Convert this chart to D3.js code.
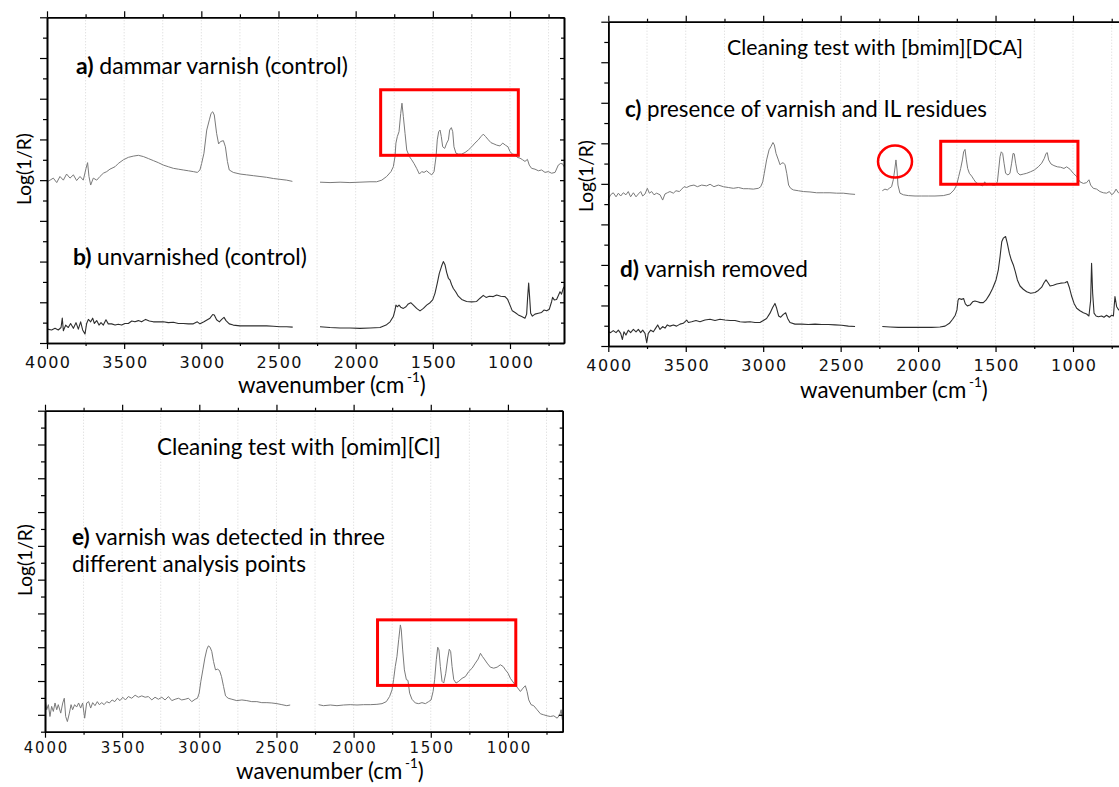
<!DOCTYPE html>
<html>
<head>
<meta charset="utf-8">
<script src="https://cdn.jsdelivr.net/npm/d3@7"></script>
<style>
  body { margin: 0; background: #fff; }
  svg { display: block; }
  .lbl { font-family: Lato, "Open Sans", sans-serif; fill: #000; }
</style>
</head>
<body>
<svg id="fig" width="1119" height="787"></svg>
<script>
// ---- wavenumber ticks (cm-1) ----
const majorWn = [4000, 3500, 3000, 2500, 2000, 1500, 1000];
const minorWn = [3750, 3250, 2750, 2250, 1750, 1250, 750];
const gridWn = [3750, 3500, 3250, 3000, 2750, 2500, 2250, 2000, 1750, 1500, 1250, 1000, 750];

// ---- spectra: [wavenumber, Log(1/R)] (offset, arbitrary units) ----
// a) dammar varnish (control)
const dammarHigh = [[4000,3.96],[3980,4.0],[3959,4.05],[3937,3.94],[3916,4.09],[3894,4.0],[3873,4.15],[3851,4.05],[3829,4.13],[3808,3.99],[3786,4.09],[3765,4.0],[3747,4.29],[3737,4.43],[3728,4.09],[3717,3.88],[3700,4.05],[3678,4.0],[3657,4.09],[3635,4.17],[3613,4.21],[3592,4.27],[3559,4.33],[3538,4.41],[3505,4.5],[3473,4.56],[3441,4.59],[3408,4.61],[3376,4.58],[3343,4.53],[3311,4.48],[3279,4.43],[3246,4.37],[3214,4.33],[3181,4.29],[3149,4.27],[3117,4.25],[3084,4.23],[3052,4.21],[3026,4.19],[3009,4.25],[2998,4.41],[2983,4.66],[2965,5.23],[2948,5.48],[2937,5.64],[2926,5.68],[2916,5.6],[2901,5.15],[2888,4.89],[2875,4.95],[2857,4.97],[2844,4.82],[2831,4.46],[2819,4.25],[2793,4.19],[2749,4.15],[2706,4.13],[2663,4.11],[2620,4.09],[2577,4.07],[2533,4.04],[2490,4.02],[2447,4.0],[2410,3.97]];
const dammarLow = [[2231,3.95],[2166,3.94],[2101,3.95],[2037,3.94],[1972,3.95],[1907,3.96],[1864,3.96],[1831,4.0],[1799,4.09],[1771,4.21],[1756,4.33],[1745,4.58],[1739,4.91],[1730,5.07],[1719,5.19],[1708,5.64],[1700,5.89],[1691,5.56],[1680,5.15],[1669,4.74],[1652,4.58],[1637,4.5],[1622,4.41],[1605,4.29],[1587,4.15],[1572,4.21],[1557,4.19],[1540,4.23],[1522,4.17],[1507,4.13],[1492,4.21],[1479,4.58],[1471,4.99],[1462,5.19],[1453,5.23],[1445,5.07],[1436,4.82],[1423,4.78],[1410,4.91],[1399,4.99],[1391,5.23],[1380,5.29],[1371,5.19],[1363,4.82],[1350,4.66],[1334,4.64],[1313,4.64],[1291,4.68],[1270,4.74],[1248,4.82],[1227,4.91],[1205,4.99],[1188,5.07],[1173,5.13],[1158,5.07],[1140,4.99],[1123,4.92],[1104,4.89],[1086,4.86],[1065,4.84],[1047,4.91],[1030,4.86],[1013,4.82],[1000,4.7],[983,4.64],[966,4.62],[953,4.56],[935,4.54],[918,4.5],[903,4.46],[887,4.51],[875,4.37],[860,4.29],[838,4.27],[816,4.23],[795,4.25],[773,4.19],[752,4.21],[730,4.17],[708,4.19],[687,4.37],[672,4.41],[659,4.4],[650,4.33]];

// b) unvarnished (control)
const unvarnishedHigh = [[3996,0.34],[3970,0.32],[3948,0.36],[3927,0.32],[3909,0.38],[3901,0.61],[3894,0.3],[3879,0.44],[3862,0.38],[3847,0.48],[3829,0.36],[3812,0.5],[3797,0.34],[3782,0.52],[3769,0.32],[3754,0.22],[3743,0.48],[3732,0.58],[3717,0.52],[3704,0.61],[3693,0.48],[3678,0.55],[3663,0.44],[3650,0.5],[3635,0.44],[3618,0.57],[3603,0.47],[3581,0.47],[3559,0.44],[3538,0.46],[3516,0.44],[3495,0.48],[3473,0.48],[3451,0.54],[3430,0.52],[3408,0.55],[3387,0.52],[3361,0.58],[3337,0.54],[3311,0.52],[3279,0.52],[3246,0.52],[3214,0.5],[3181,0.51],[3149,0.48],[3117,0.48],[3084,0.47],[3052,0.47],[3026,0.52],[3009,0.47],[2983,0.52],[2961,0.57],[2944,0.61],[2926,0.7],[2916,0.69],[2901,0.57],[2883,0.52],[2868,0.58],[2853,0.63],[2840,0.55],[2819,0.47],[2793,0.44],[2749,0.42],[2706,0.42],[2663,0.42],[2620,0.42],[2577,0.42],[2533,0.41],[2490,0.4],[2447,0.4],[2408,0.39]];
const unvarnishedLow = [[2231,0.4],[2166,0.38],[2101,0.37],[2037,0.37],[1972,0.36],[1907,0.37],[1842,0.38],[1803,0.44],[1777,0.52],[1756,0.65],[1745,0.81],[1739,0.93],[1730,0.89],[1719,0.93],[1708,0.88],[1691,0.85],[1674,0.89],[1659,0.96],[1643,0.99],[1626,0.93],[1605,0.85],[1583,0.79],[1561,0.85],[1540,0.93],[1518,0.99],[1501,1.06],[1486,1.22],[1471,1.47],[1458,1.71],[1443,1.89],[1432,2.0],[1421,1.92],[1410,1.73],[1399,1.59],[1389,1.55],[1378,1.43],[1367,1.34],[1352,1.26],[1335,1.15],[1313,1.07],[1281,1.02],[1248,1.01],[1216,1.02],[1194,1.1],[1173,1.17],[1155,1.12],[1134,1.15],[1108,1.14],[1086,1.18],[1060,1.15],[1032,1.14],[1015,1.07],[1000,0.93],[985,0.79],[967,0.75],[946,0.69],[924,0.65],[903,0.61],[892,0.71],[886,1.1],[879,1.47],[873,1.14],[866,0.73],[855,0.66],[838,0.71],[816,0.73],[795,0.75],[780,0.81],[762,0.79],[745,0.83],[730,1.02],[724,1.12],[713,1.06],[698,1.07],[685,1.18],[676,1.26],[666,1.2],[655,1.34],[649,1.38]];

// c) cleaning with [bmim][DCA]: varnish and IL residues
const bmimHigh = [[4000,3.62],[3985,3.73],[3968,3.78],[3950,3.68],[3935,3.77],[3920,3.7],[3903,3.78],[3886,3.73],[3871,3.81],[3856,3.68],[3838,3.78],[3821,3.68],[3806,3.75],[3791,3.81],[3778,3.7],[3763,3.75],[3748,3.89],[3735,3.77],[3720,3.81],[3705,3.73],[3688,3.77],[3666,3.73],[3649,3.6],[3634,3.75],[3619,3.78],[3602,3.81],[3580,3.77],[3563,3.83],[3541,3.81],[3526,3.87],[3511,3.93],[3494,3.91],[3473,3.95],[3447,3.97],[3425,3.93],[3397,3.97],[3365,3.95],[3343,3.99],[3318,3.93],[3290,3.97],[3257,3.93],[3225,3.91],[3193,3.89],[3160,3.91],[3128,3.88],[3096,3.88],[3064,3.87],[3031,3.89],[3016,3.93],[3003,4.05],[2993,4.26],[2978,4.59],[2962,4.84],[2950,4.92],[2937,5.02],[2928,4.96],[2917,4.75],[2902,4.59],[2891,4.47],[2881,4.51],[2870,4.52],[2859,4.47],[2848,4.26],[2836,3.97],[2823,3.89],[2805,3.85],[2773,3.83],[2741,3.81],[2698,3.8],[2655,3.78],[2612,3.78],[2569,3.78],[2526,3.77],[2483,3.77],[2440,3.75],[2407,3.74]];
const bmimLow = [[2231,3.83],[2214,3.87],[2199,3.85],[2186,3.89],[2171,3.93],[2160,4.1],[2151,4.34],[2143,4.59],[2136,4.34],[2130,3.97],[2117,3.77],[2095,3.73],[2063,3.71],[2020,3.7],[1977,3.7],[1934,3.7],[1891,3.7],[1837,3.71],[1794,3.75],[1768,3.85],[1751,3.97],[1738,4.18],[1725,4.38],[1714,4.59],[1706,4.79],[1697,4.85],[1689,4.61],[1680,4.38],[1669,4.26],[1654,4.19],[1639,4.1],[1626,4.03],[1611,4.0],[1596,3.97],[1583,3.95],[1570,4.05],[1557,3.97],[1540,4.01],[1519,3.97],[1501,3.97],[1488,4.05],[1480,4.34],[1471,4.67],[1463,4.79],[1454,4.75],[1445,4.51],[1435,4.26],[1420,4.22],[1407,4.26],[1396,4.51],[1387,4.75],[1379,4.74],[1370,4.51],[1359,4.28],[1342,4.22],[1321,4.24],[1299,4.26],[1273,4.3],[1250,4.34],[1224,4.42],[1202,4.51],[1185,4.63],[1174,4.75],[1166,4.77],[1157,4.59],[1142,4.49],[1123,4.45],[1101,4.42],[1080,4.41],[1058,4.38],[1041,4.42],[1019,4.36],[998,4.26],[976,4.18],[955,4.05],[933,4.01],[912,4.03],[897,4.1],[886,3.97],[869,3.89],[847,3.87],[826,3.81],[804,3.78],[783,3.77],[765,3.81],[750,3.73],[735,3.78],[722,3.87],[707,3.78],[690,3.8],[670,3.83],[650,3.85]];

// d) varnish removed
const removedHigh = [[4000,0.35],[3985,0.33],[3968,0.38],[3950,0.33],[3935,0.39],[3920,0.31],[3909,0.16],[3899,0.35],[3886,0.27],[3871,0.39],[3856,0.33],[3838,0.41],[3821,0.35],[3806,0.41],[3791,0.33],[3778,0.39],[3763,0.31],[3752,0.08],[3742,0.31],[3726,0.39],[3709,0.35],[3694,0.44],[3681,0.52],[3666,0.41],[3649,0.48],[3634,0.44],[3619,0.52],[3602,0.49],[3580,0.52],[3559,0.49],[3537,0.54],[3516,0.56],[3494,0.64],[3483,0.58],[3462,0.6],[3434,0.63],[3408,0.6],[3376,0.64],[3343,0.66],[3311,0.63],[3279,0.66],[3247,0.64],[3214,0.63],[3182,0.63],[3150,0.6],[3117,0.59],[3085,0.6],[3053,0.58],[3021,0.58],[2999,0.63],[2978,0.68],[2956,0.81],[2939,0.95],[2924,1.05],[2913,0.93],[2900,0.74],[2887,0.71],[2870,0.78],[2855,0.82],[2842,0.68],[2827,0.58],[2795,0.54],[2752,0.54],[2709,0.53],[2665,0.54],[2622,0.53],[2579,0.53],[2536,0.52],[2493,0.51],[2450,0.49],[2407,0.48]];
const removedLow = [[2231,0.48],[2181,0.47],[2128,0.46],[2074,0.46],[2020,0.46],[1966,0.46],[1912,0.46],[1859,0.47],[1826,0.49],[1798,0.56],[1777,0.66],[1760,0.76],[1749,0.89],[1742,1.13],[1736,1.17],[1719,1.15],[1706,1.17],[1695,1.04],[1682,0.99],[1665,1.01],[1648,1.09],[1633,1.11],[1615,1.09],[1600,1.07],[1579,1.07],[1562,1.13],[1540,1.26],[1519,1.42],[1497,1.63],[1482,1.88],[1471,2.2],[1460,2.57],[1450,2.66],[1435,2.7],[1424,2.53],[1411,2.29],[1398,2.12],[1385,2.0],[1372,1.83],[1359,1.63],[1342,1.48],[1321,1.4],[1299,1.34],[1273,1.3],[1245,1.32],[1224,1.37],[1202,1.45],[1187,1.56],[1174,1.63],[1161,1.56],[1148,1.48],[1127,1.5],[1105,1.53],[1080,1.55],[1052,1.56],[1037,1.59],[1024,1.45],[1008,1.22],[993,1.05],[976,0.93],[955,0.87],[933,0.82],[912,0.79],[897,0.74],[886,1.13],[880,2.04],[873,1.3],[864,0.81],[851,0.74],[836,0.72],[815,0.74],[800,0.71],[783,0.76],[765,0.71],[750,0.76],[739,0.74],[729,1.22],[718,0.97],[705,0.89],[690,0.95],[670,1.05],[650,1.1]];

// e) cleaning with [omim][Cl]
const omimHigh = [[3998,0.44],[3989,0.15],[3978,0.3],[3968,-0.05],[3957,0.25],[3946,0.1],[3935,0.35],[3924,0.15],[3914,0.3],[3898,0.05],[3885,0.35],[3875,0.49],[3866,-0.05],[3855,-0.2],[3842,0.05],[3831,0.3],[3821,0.15],[3808,0.3],[3795,0.23],[3782,0.35],[3769,0.2],[3756,0.35],[3743,-0.1],[3730,0.35],[3717,0.39],[3704,0.2],[3691,0.36],[3676,0.27],[3661,0.39],[3648,0.3],[3632,0.36],[3617,0.3],[3600,0.39],[3583,0.35],[3565,0.44],[3548,0.39],[3531,0.49],[3514,0.42],[3496,0.52],[3479,0.44],[3460,0.54],[3438,0.49],[3416,0.58],[3395,0.52],[3373,0.56],[3351,0.52],[3330,0.54],[3308,0.44],[3287,0.52],[3265,0.46],[3243,0.52],[3222,0.44],[3200,0.54],[3178,0.42],[3157,0.46],[3135,0.49],[3114,0.44],[3092,0.46],[3070,0.49],[3049,0.39],[3027,0.46],[3012,0.49],[3001,0.64],[2990,0.99],[2977,1.33],[2964,1.68],[2951,1.94],[2941,2.04],[2930,2.0],[2919,1.87],[2908,1.58],[2895,1.33],[2882,1.35],[2869,1.31],[2856,1.13],[2843,0.84],[2830,0.56],[2813,0.49],[2789,0.46],[2757,0.42],[2724,0.44],[2692,0.42],[2660,0.39],[2627,0.39],[2595,0.36],[2562,0.36],[2530,0.35],[2497,0.33],[2465,0.3],[2433,0.27],[2411,0.29]];
const omimLow = [[2227,0.3],[2195,0.27],[2151,0.29],[2108,0.27],[2065,0.29],[2022,0.3],[1978,0.29],[1935,0.3],[1892,0.3],[1849,0.31],[1816,0.33],[1788,0.39],[1767,0.54],[1751,0.74],[1741,1.04],[1730,1.43],[1719,1.73],[1708,2.22],[1697,2.66],[1691,2.51],[1682,1.92],[1671,1.33],[1658,1.04],[1648,1.02],[1637,0.64],[1622,0.46],[1600,0.35],[1578,0.33],[1557,0.36],[1535,0.33],[1514,0.39],[1498,0.44],[1485,0.69],[1475,1.04],[1464,1.63],[1455,2.0],[1447,1.92],[1438,1.43],[1427,0.99],[1416,0.94],[1403,1.23],[1390,1.68],[1380,1.94],[1371,1.87],[1362,1.43],[1351,1.04],[1336,0.94],[1319,0.99],[1297,1.08],[1276,1.13],[1254,1.28],[1232,1.38],[1211,1.53],[1193,1.65],[1178,1.82],[1166,1.73],[1153,1.65],[1135,1.53],[1114,1.41],[1092,1.38],[1070,1.41],[1049,1.48],[1031,1.43],[1016,1.33],[999,1.23],[984,1.08],[962,0.94],[941,0.82],[919,0.69],[902,0.79],[887,0.86],[876,0.69],[865,0.44],[850,0.3],[833,0.27],[811,0.15],[789,0.03],[768,0.0],[746,-0.03],[725,-0.05],[703,-0.03],[681,-0.1],[664,0.0],[655,0.15],[647,-0.15]];

// ---- highlighted regions: [wnStart, wnEnd, yTop, yBottom] ----
const boxA = [1838, 946, 6.22, 4.61];
const boxC = [1854, 968, 5.05, 3.99];
const boxE = [1845, 949, 2.81, 0.87];
// IL residue band marker: [wn, y]
const ringC = [2149, 4.55];

const svg = d3.select("#fig");
const GREY = "#7a7a7a", DARK = "#2e2e2e", RED = "#ff0000";

// scale a text's font size so that it spans the given width
function fitWidth(sel, width) {
  const w = sel.node().getComputedTextLength();
  const fs = parseFloat(sel.attr("font-size"));
  if (w > 0) sel.attr("font-size", (fs * width / w).toFixed(2));
  return sel;
}

function panel(cfg) {
  const g = svg.append("g");
  const x = d3.scaleLinear().domain(cfg.xDomain).range([cfg.left, cfg.right]);
  const y = d3.scaleLinear().domain(cfg.yDomain).range([cfg.bottom, cfg.top]);

  // dotted vertical grid
  g.append("g").selectAll("line").data(gridWn).join("line")
    .attr("x1", d => x(d)).attr("x2", d => x(d))
    .attr("y1", cfg.top).attr("y2", cfg.bottom)
    .attr("stroke", "#d6d6d6").attr("stroke-width", 1)
    .attr("stroke-dasharray", "1,2");

  // spectra
  const line = d3.line().x(d => x(d[0])).y(d => y(d[1]));
  cfg.series.forEach(s => {
    g.append("path").datum(s.values)
      .attr("d", line).attr("fill", "none")
      .attr("stroke", s.color).attr("stroke-width", s.width)
      .attr("stroke-linejoin", "round");
  });

  const yMajor = d3.range(Math.ceil(cfg.yDomain[0]), cfg.yDomain[1] + 0.001, 1);
  const yMinor = d3.range(Math.ceil(cfg.yDomain[0]) - 0.5, cfg.yDomain[1], 1).filter(v => v >= cfg.yDomain[0] - 0.001);

  const axes = g.append("g");
  function addAxis(axis, tx, ty) {
    const a = axes.append("g").attr("transform", `translate(${tx},${ty})`).call(axis);
    a.selectAll("path.domain").attr("stroke", "#000").attr("stroke-width", 1.6);
    a.selectAll(".tick line").attr("stroke", "#000").attr("stroke-width", 1.2);
    return a;
  }
  const noLbl = () => "";
  // bottom, with wavenumber labels
  const bx = addAxis(d3.axisBottom(x).tickValues(majorWn).tickFormat(d3.format("d"))
    .tickSizeInner(6).tickSizeOuter(0), 0, cfg.bottom);
  bx.selectAll("text")
    .attr("font-family", "DejaVu Sans, sans-serif").attr("font-size", cfg.labelSize)
    .attr("letter-spacing", cfg.labelSpacing).attr("dx", cfg.labelSpacing / 2)
    .attr("dy", null).attr("y", cfg.labelOffset).attr("fill", "#111");
  addAxis(d3.axisBottom(x).tickValues(minorWn).tickSizeInner(3).tickSizeOuter(0).tickFormat(noLbl), 0, cfg.bottom);
  // top
  addAxis(d3.axisTop(x).tickValues(majorWn).tickSizeInner(6).tickSizeOuter(0).tickFormat(noLbl), 0, cfg.top);
  addAxis(d3.axisTop(x).tickValues(minorWn).tickSizeInner(3).tickSizeOuter(0).tickFormat(noLbl), 0, cfg.top);
  // left
  addAxis(d3.axisLeft(y).tickValues(yMajor).tickSizeInner(7).tickSizeOuter(0).tickFormat(noLbl), cfg.left, 0);
  addAxis(d3.axisLeft(y).tickValues(yMinor).tickSizeInner(4).tickSizeOuter(0).tickFormat(noLbl), cfg.left, 0);
  // right (ticks pointing inward)
  addAxis(d3.axisRight(y).tickValues(yMajor).tickSizeInner(-4).tickSizeOuter(0).tickFormat(noLbl), cfg.right, 0);
  addAxis(d3.axisRight(y).tickValues(yMinor).tickSizeInner(-3).tickSizeOuter(0).tickFormat(noLbl), cfg.right, 0);

  // highlighted regions
  (cfg.boxes || []).forEach(b => {
    g.append("rect")
      .attr("x", x(b[0])).attr("y", y(b[2]))
      .attr("width", x(b[1]) - x(b[0])).attr("height", y(b[3]) - y(b[2]))
      .attr("fill", "none").attr("stroke", RED).attr("stroke-width", 3);
  });
  (cfg.rings || []).forEach(r => {
    g.append("ellipse")
      .attr("cx", x(r[0])).attr("cy", y(r[1])).attr("rx", 17).attr("ry", 16)
      .attr("fill", "none").attr("stroke", RED).attr("stroke-width", 2.5);
  });

  // axis titles
  const yt = g.append("text").attr("class", "lbl")
    .attr("transform", `translate(${cfg.yTitle[0]},${cfg.yTitle[1]}) rotate(-90)`)
    .attr("text-anchor", "middle").attr("font-size", 20).text("Log(1/R)");
  fitWidth(yt, 72);
  const xt = g.append("text").attr("class", "lbl")
    .attr("x", cfg.xTitle[0]).attr("y", cfg.xTitle[1]).attr("font-size", 22);
  xt.append("tspan").text("wavenumber (cm");
  xt.append("tspan").attr("font-size", "0.6em").attr("dx", "0.12em").text("-1");
  xt.append("tspan").text(")");
  fitWidth(xt, 185);
  // raise the exponent relative to the fitted size
  const fs = parseFloat(xt.attr("font-size"));
  xt.selectAll("tspan").filter((d, i) => i === 1).attr("dy", -0.48 * fs).attr("dx", 0.12 * fs);
  xt.selectAll("tspan").filter((d, i) => i === 2).attr("dy", 0.48 * fs);

  // panel captions
  cfg.captions.forEach(c => {
    const t = g.append("text").attr("class", "lbl")
      .attr("x", c.x).attr("y", c.y).attr("font-size", 20);
    if (c.tag) t.append("tspan").attr("font-weight", "bold").text(c.tag + " ");
    t.append("tspan").text(c.text);
    fitWidth(t, c.w);
  });
  return g;
}

panel({
  left: 47, right: 564, top: 17.3, bottom: 343,
  xDomain: [4000, 650], yDomain: [0, 8],
  labelOffset: 24.5, labelSize: 16, labelSpacing: 1.4,
  series: [
    { values: dammarHigh, color: GREY, width: 1 },
    { values: dammarLow, color: GREY, width: 1 },
    { values: unvarnishedHigh, color: DARK, width: 1.1 },
    { values: unvarnishedLow, color: DARK, width: 1.1 }
  ],
  boxes: [boxA],
  yTitle: [31, 169], xTitle: [238, 393],
  captions: [
    { tag: "a)", text: "dammar varnish (control)", x: 76, y: 74, w: 272 },
    { tag: "b)", text: "unvarnished (control)", x: 73, y: 265, w: 234 }
  ]
});

panel({
  left: 608.3, right: 1127.2, top: 21.7, bottom: 346,
  xDomain: [4000, 650], yDomain: [0, 8],
  labelOffset: 25, labelSize: 16, labelSpacing: 1.4,
  series: [
    { values: bmimHigh, color: GREY, width: 1 },
    { values: bmimLow, color: GREY, width: 1 },
    { values: removedHigh, color: DARK, width: 1.1 },
    { values: removedLow, color: DARK, width: 1.1 }
  ],
  boxes: [boxC], rings: [ringC],
  yTitle: [593, 176], xTitle: [800, 398],
  captions: [
    { text: "Cleaning test with [bmim][DCA]", x: 727, y: 55, w: 296 },
    { tag: "c)", text: "presence of varnish and IL residues", x: 625, y: 117, w: 362 },
    { tag: "d)", text: "varnish removed", x: 620, y: 277, w: 188 }
  ]
});

panel({
  left: 45, right: 562.7, top: 410.7, bottom: 731.7,
  xDomain: [4000, 645], yDomain: [-0.5, 9],
  labelOffset: 21.5, labelSize: 15, labelSpacing: 1.8,
  series: [
    { values: omimHigh, color: GREY, width: 1 },
    { values: omimLow, color: GREY, width: 1 }
  ],
  boxes: [boxE],
  yTitle: [32, 560], xTitle: [236, 778.5],
  captions: [
    { text: "Cleaning test with [omim][Cl]", x: 157, y: 455, w: 284 },
    { tag: "e)", text: "varnish was detected in three", x: 72, y: 545, w: 313 },
    { text: "different analysis points", x: 72, y: 572, w: 234 }
  ]
});
</script>
</body>
</html>
